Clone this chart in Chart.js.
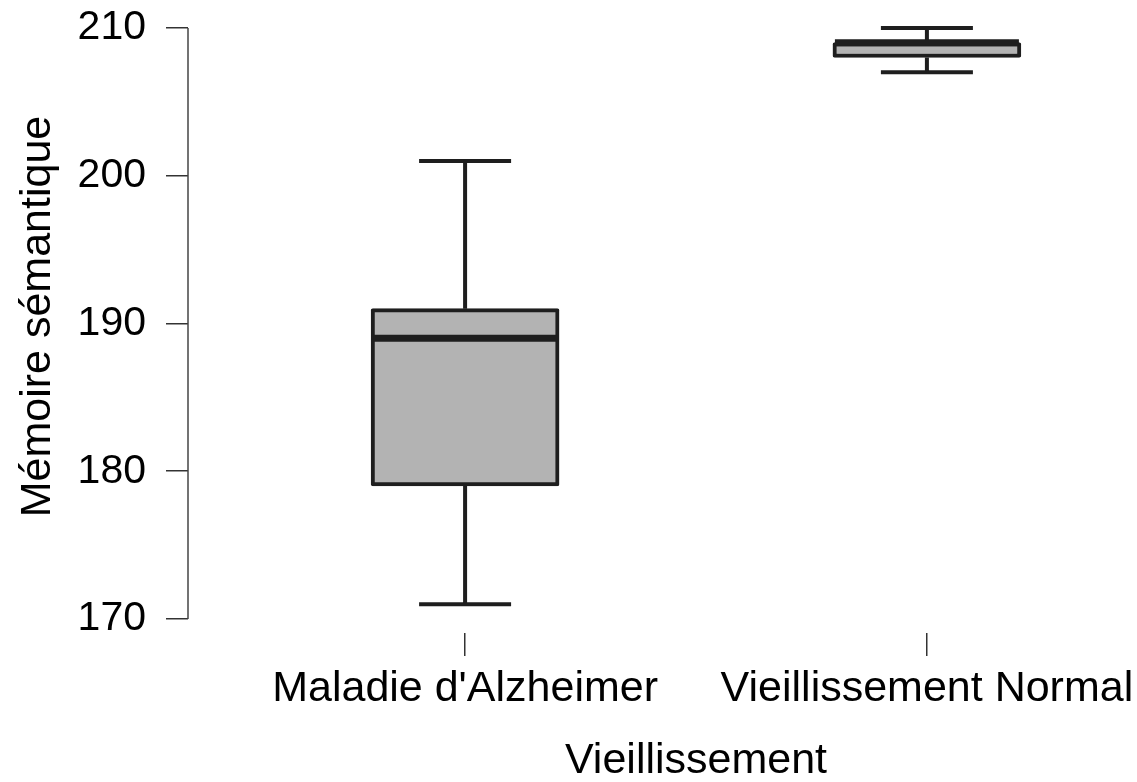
<!DOCTYPE html>
<html>
<head>
<meta charset="utf-8">
<script src="https://cdn.jsdelivr.net/npm/chart.js@4"></script>
<style>
  body { margin: 0; background: #fff; overflow: hidden; }
  #wrap { width: 1137px; height: 782px; overflow: hidden; }
  /* plot region runs past the right edge, like the original figure */
  #boxChart { display: block; }
</style>
</head>
<body>
<div id="wrap"><canvas id="boxChart" width="1204" height="782"></canvas></div>
<script>
const groups = ["Maladie d'Alzheimer", 'Vieillissement Normal']
const mins = [171, 207]
const q1s = [179, 208]
const medians = [189, 209]
const q3s = [191, 209]
const maxs = [201, 210]
const yTicks = [170, 180, 190, 200, 210]

const FONT = "'Liberation Sans', Arial, sans-serif"
const INK = '#1e1e1e'

// whiskers behind the boxes, medians + y axis line on top
const boxParts = {
    id: 'boxParts',
    beforeDatasetsDraw(chart) {
        const {ctx, scales: {x, y}} = chart
        ctx.save()
        ctx.strokeStyle = INK
        ctx.lineWidth = 4
        groups.forEach((g, i) => {
            const cx = x.getPixelForValue(i + 1)
            ctx.beginPath()
            ctx.moveTo(cx, y.getPixelForValue(q3s[i]))
            ctx.lineTo(cx, y.getPixelForValue(maxs[i]))
            ctx.moveTo(cx, y.getPixelForValue(q1s[i]))
            ctx.lineTo(cx, y.getPixelForValue(mins[i]))
            ctx.moveTo(cx - 46, y.getPixelForValue(maxs[i]))
            ctx.lineTo(cx + 46, y.getPixelForValue(maxs[i]))
            ctx.moveTo(cx - 46, y.getPixelForValue(mins[i]))
            ctx.lineTo(cx + 46, y.getPixelForValue(mins[i]))
            ctx.stroke()
        })
        ctx.restore()
    },
    afterDatasetsDraw(chart) {
        const {ctx, scales: {x, y}} = chart
        ctx.save()
        ctx.strokeStyle = INK
        ctx.lineWidth = 7
        groups.forEach((g, i) => {
            const cx = x.getPixelForValue(i + 1)
            const my = y.getPixelForValue(medians[i])
            ctx.beginPath()
            ctx.moveTo(cx - 92, my)
            ctx.lineTo(cx + 92, my)
            ctx.stroke()
        })
        // y axis line only spans the tick range
        ctx.strokeStyle = '#444'
        ctx.lineWidth = 1.5
        ctx.beginPath()
        ctx.moveTo(chart.chartArea.left, y.getPixelForValue(yTicks[0]))
        ctx.lineTo(chart.chartArea.left, y.getPixelForValue(yTicks[yTicks.length - 1]))
        ctx.stroke()
        ctx.restore()
    }
}

const ctx = document.getElementById('boxChart').getContext('2d')
new Chart(ctx, {
    type: 'bar',
    data: {
        datasets: [{
            data: groups.map((g, i) => ({x: i + 1, y: [q1s[i], q3s[i]]})),
            backgroundColor: '#b3b3b3',
            borderColor: INK,
            borderWidth: 4,
            borderRadius: 2,
            borderSkipped: false,
            barThickness: 188,
        }]
    },
    options: {
        responsive: false,
        animation: false,
        layout: { padding: 0 },
        plugins: {
            legend: { display: false },
            tooltip: { enabled: false },
        },
        scales: {
            x: {
                type: 'linear',
                min: 0.4,
                max: 2.6,
                offset: false,
                grid: { offset: false, drawOnChartArea: false, tickLength: 23, color: '#333', lineWidth: 1.5 },
                border: { display: false },
                afterBuildTicks: (scale) => { scale.ticks = groups.map((g, i) => ({value: i + 1})) },
                afterFit: (scale) => {
                    scale.height = 149
                    scale.paddingLeft = 0
                    scale.paddingRight = 0
                },
                ticks: {
                    autoSkip: false,
                    maxRotation: 0,
                    padding: 7,
                    color: '#000',
                    font: { family: FONT, size: 43 },
                    callback: (v) => groups[v - 1],
                },
                title: {
                    display: true,
                    text: 'Vieillissement',
                    color: '#000',
                    font: { family: FONT, size: 43 },
                    padding: { top: 0, bottom: -5 },
                },
            },
            y: {
                min: 169.05,
                max: 211.89,
                grid: { drawOnChartArea: false, tickLength: 22, color: '#333', lineWidth: 1.5 },
                border: { display: false },
                afterBuildTicks: (scale) => { scale.ticks = yTicks.map(v => ({value: v})) },
                afterFit: (scale) => {
                    scale.width = 188
                    scale.paddingTop = 0
                    scale.paddingBottom = 0
                },
                ticks: {
                    padding: 20,
                    color: '#000',
                    font: { family: FONT, size: 41 },
                },
                title: {
                    display: true,
                    text: 'Mémoire sémantique',
                    color: '#000',
                    font: { family: FONT, size: 43 },
                    padding: { top: 12, bottom: 0 },
                },
            },
        },
    },
    plugins: [boxParts],
})
</script>
</body>
</html>
